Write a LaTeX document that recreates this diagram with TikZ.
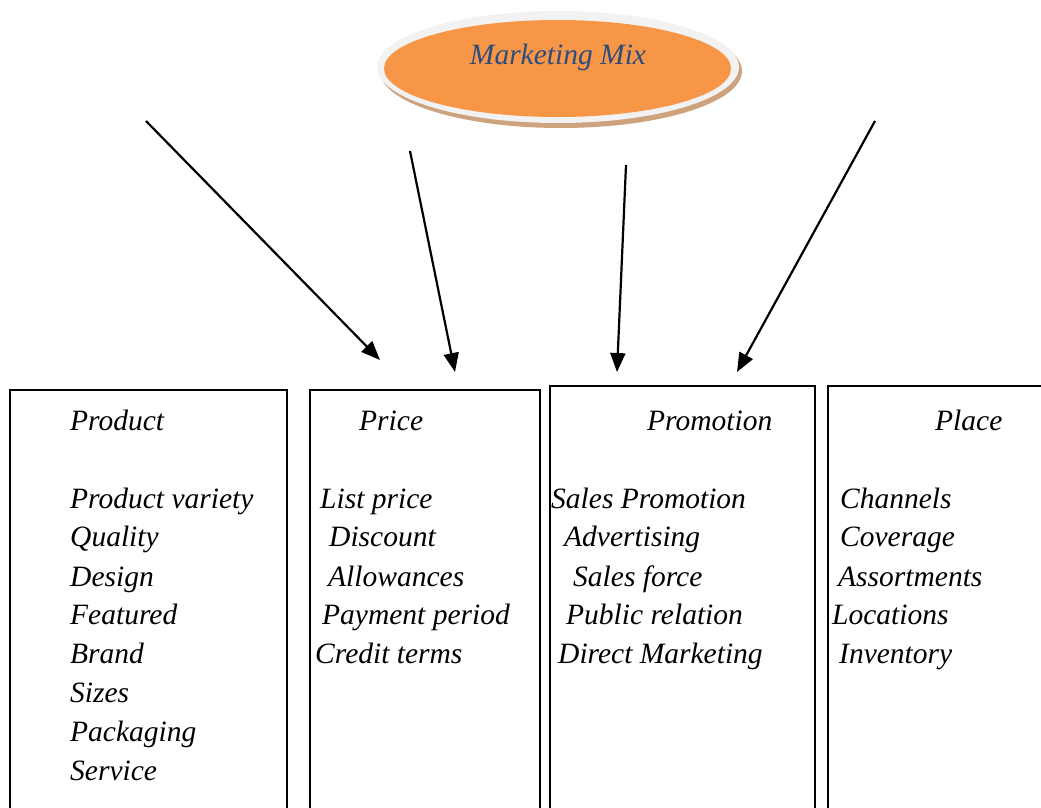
\documentclass[tikz,border=0pt]{standalone}
\usepackage{fontspec}
\setmainfont{Liberation Serif}
\usetikzlibrary{arrows.meta}
\definecolor{mixorange}{HTML}{F79646}
\definecolor{ringgray}{HTML}{F2F2F2}
\definecolor{shadowtan}{HTML}{CFA27E}
\definecolor{mixblue}{HTML}{2B4C7E}
\tikzset{
  col/.style={draw=black, line width=2.2pt},
  lbl/.style={anchor=base west, inner sep=0pt, font=\itshape\fontsize{29.5}{34}\selectfont},
  arr/.style={line width=2.2pt, -{Triangle[length=19pt,width=15pt]}},
}
\begin{document}
\begin{tikzpicture}[x=1pt,y=-1pt]
\useasboundingbox (0,0) rectangle (1041,807);
\clip (0,0) rectangle (1041,807);
% ellipse
\fill[shadowtan] (561,71) ellipse [x radius=181, y radius=57];
\fill[ringgray] (558,67) ellipse [x radius=181, y radius=56];
\fill[mixorange] (557.5,68.5) ellipse [x radius=173.5, y radius=48.5];
\node[inner sep=0pt, text=mixblue, font=\itshape\fontsize{29.5}{34}\selectfont] (mix) at (558,57) {Marketing Mix};
% boxes
\draw[col] (10,830) -- (10,390) -- (287,390) -- (287,830);
\draw[col] (310,830) -- (310,390) -- (540,390) -- (540,830);
\draw[col] (550,830) -- (550,386) -- (815,386) -- (815,830);
\draw[col] (828,830) -- (828,386) -- (1060,386);
% arrows
\coordinate (t1) at (146,121); \coordinate (h1) at (380,360);
\coordinate (t2) at (410,151); \coordinate (h2) at (455,372);
\coordinate (t3) at (626,165); \coordinate (h3) at (617,372);
\coordinate (t4) at (875,121); \coordinate (h4) at (737,372);
\draw[arr] (t1) -- (h1);
\draw[arr] (t2) -- (h2);
\draw[arr] (t3) -- (h3);
\draw[arr] (t4) -- (h4);
% Product
\node[lbl] (prT) at (70,430) {Product};
\node[lbl] (pr1) at (70,508) {Product variety};
\node[lbl] (pr2) at (70,546) {Quality};
\node[lbl] (pr3) at (70,586) {Design};
\node[lbl] (pr4) at (70,624) {Featured};
\node[lbl] (pr5) at (70,663) {Brand};
\node[lbl] (pr6) at (70,702) {Sizes};
\node[lbl] (pr7) at (70,741) {Packaging};
\node[lbl] (pr8) at (70,780) {Service};
% Price
\node[lbl] (piT) at (359,430) {Price};
\node[lbl] (pi1) at (320,508) {List price};
\node[lbl] (pi2) at (329,546) {Discount};
\node[lbl] (pi3) at (328,586) {Allowances};
\node[lbl] (pi4) at (322,624) {Payment period};
\node[lbl] (pi5) at (315,663) {Credit terms};
% Promotion
\node[lbl] (poT) at (647,430) {Promotion};
\node[lbl] (po1) at (551,508) {Sales Promotion};
\node[lbl] (po2) at (564,546) {Advertising};
\node[lbl] (po3) at (573,586) {Sales force};
\node[lbl] (po4) at (566,624) {Public relation};
\node[lbl] (po5) at (558,663) {Direct Marketing};
% Place
\node[lbl] (plT) at (935,430) {Place};
\node[lbl] (pl1) at (840,508) {Channels};
\node[lbl] (pl2) at (840,546) {Coverage};
\node[lbl] (pl3) at (838,586) {Assortments};
\node[lbl] (pl4) at (832,624) {Locations};
\node[lbl] (pl5) at (839,663) {Inventory};
\end{tikzpicture}
\end{document}
